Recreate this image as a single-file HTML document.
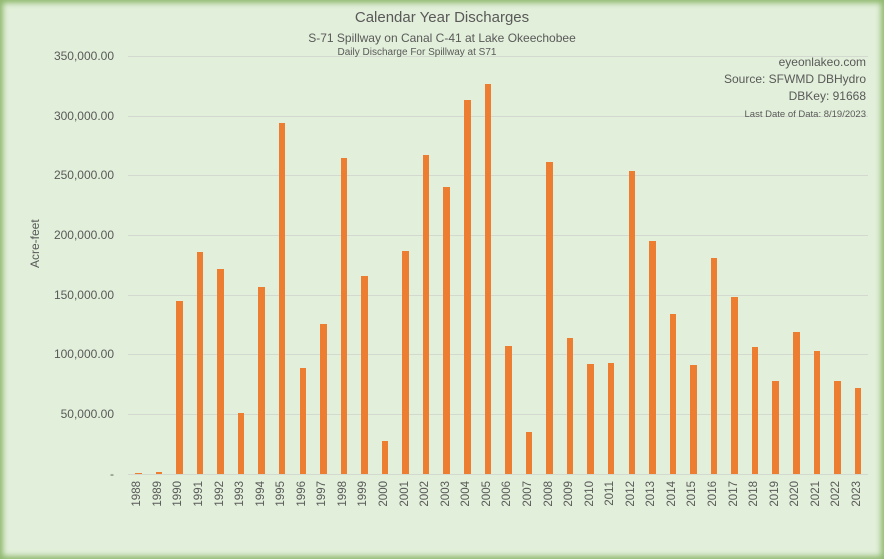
<!DOCTYPE html><html><head><style>
body{margin:0;width:884px;height:559px;overflow:hidden;font-family:"Liberation Sans",sans-serif;color:#595959}
.frame{position:absolute;left:0;top:0;width:884px;height:559px;background:#e2efda;box-shadow:inset 0 0 6px 3px #8fb86e;}
.t{position:absolute;white-space:nowrap;z-index:5}
.g{position:absolute;left:128px;width:740px;height:1px;background:#d4d9d0}
.yl{position:absolute;right:770px;font-size:12px;text-align:right}
#plot{position:absolute;left:128px;top:0;width:740px;height:474px;display:flex;align-items:flex-end}
.c{flex:1;display:flex;justify-content:center;align-items:flex-end;height:100%;position:relative}
.b{width:6.5px;background:#ed7d31}
.c span{position:absolute;top:481px;left:50%;margin-left:-7px;writing-mode:vertical-rl;transform:rotate(180deg);font-size:11.5px;color:#595959}
</style></head><body><div class="frame"></div>
<div class="g" style="top:56px"></div><div class="g" style="top:116px"></div><div class="g" style="top:175px"></div><div class="g" style="top:235px"></div><div class="g" style="top:295px"></div><div class="g" style="top:354px"></div><div class="g" style="top:414px"></div><div class="g" style="top:474px"></div>
<div class="yl" style="top:49px">350,000.00</div><div class="yl" style="top:109px">300,000.00</div><div class="yl" style="top:168px">250,000.00</div><div class="yl" style="top:228px">200,000.00</div><div class="yl" style="top:288px">150,000.00</div><div class="yl" style="top:347px">100,000.00</div><div class="yl" style="top:407px">50,000.00</div><div class="yl" style="top:467px">-</div>
<div id="plot">
<div class="c"><div class="b" style="height:1.5px"></div><span>1988</span></div>
<div class="c"><div class="b" style="height:2.5px"></div><span>1989</span></div>
<div class="c"><div class="b" style="height:173px"></div><span>1990</span></div>
<div class="c"><div class="b" style="height:222px"></div><span>1991</span></div>
<div class="c"><div class="b" style="height:205px"></div><span>1992</span></div>
<div class="c"><div class="b" style="height:61px"></div><span>1993</span></div>
<div class="c"><div class="b" style="height:187px"></div><span>1994</span></div>
<div class="c"><div class="b" style="height:351px"></div><span>1995</span></div>
<div class="c"><div class="b" style="height:106px"></div><span>1996</span></div>
<div class="c"><div class="b" style="height:150px"></div><span>1997</span></div>
<div class="c"><div class="b" style="height:316px"></div><span>1998</span></div>
<div class="c"><div class="b" style="height:198px"></div><span>1999</span></div>
<div class="c"><div class="b" style="height:33px"></div><span>2000</span></div>
<div class="c"><div class="b" style="height:223px"></div><span>2001</span></div>
<div class="c"><div class="b" style="height:319px"></div><span>2002</span></div>
<div class="c"><div class="b" style="height:287px"></div><span>2003</span></div>
<div class="c"><div class="b" style="height:374px"></div><span>2004</span></div>
<div class="c"><div class="b" style="height:390px"></div><span>2005</span></div>
<div class="c"><div class="b" style="height:128px"></div><span>2006</span></div>
<div class="c"><div class="b" style="height:42px"></div><span>2007</span></div>
<div class="c"><div class="b" style="height:312px"></div><span>2008</span></div>
<div class="c"><div class="b" style="height:136px"></div><span>2009</span></div>
<div class="c"><div class="b" style="height:110px"></div><span>2010</span></div>
<div class="c"><div class="b" style="height:111px"></div><span>2011</span></div>
<div class="c"><div class="b" style="height:303px"></div><span>2012</span></div>
<div class="c"><div class="b" style="height:233px"></div><span>2013</span></div>
<div class="c"><div class="b" style="height:160px"></div><span>2014</span></div>
<div class="c"><div class="b" style="height:109px"></div><span>2015</span></div>
<div class="c"><div class="b" style="height:216px"></div><span>2016</span></div>
<div class="c"><div class="b" style="height:177px"></div><span>2017</span></div>
<div class="c"><div class="b" style="height:127px"></div><span>2018</span></div>
<div class="c"><div class="b" style="height:93px"></div><span>2019</span></div>
<div class="c"><div class="b" style="height:142px"></div><span>2020</span></div>
<div class="c"><div class="b" style="height:123px"></div><span>2021</span></div>
<div class="c"><div class="b" style="height:93px"></div><span>2022</span></div>
<div class="c"><div class="b" style="height:86px"></div><span>2023</span></div>
</div>
<div class="t" style="left:0;width:884px;top:9px;text-align:center;font-size:15px">Calendar Year Discharges</div>
<div class="t" style="left:0;width:884px;top:31px;text-align:center;font-size:12px">S-71 Spillway on Canal C-41 at Lake Okeechobee</div>
<div class="t" style="left:0;width:834px;top:47px;text-align:center;font-size:10px;line-height:12px">Daily Discharge For Spillway at S71</div>
<div class="t" style="right:18px;top:54px;font-size:12px;text-align:right;line-height:17px">eyeonlakeo.com<br>Source: SFWMD DBHydro<br>DBKey: 91668<br><span style="font-size:9.5px">Last Date of Data: 8/19/2023</span></div>
<div class="t" style="left:28px;top:268px;font-size:12px;transform:rotate(-90deg);transform-origin:left top;">Acre-feet</div>
</body></html>
